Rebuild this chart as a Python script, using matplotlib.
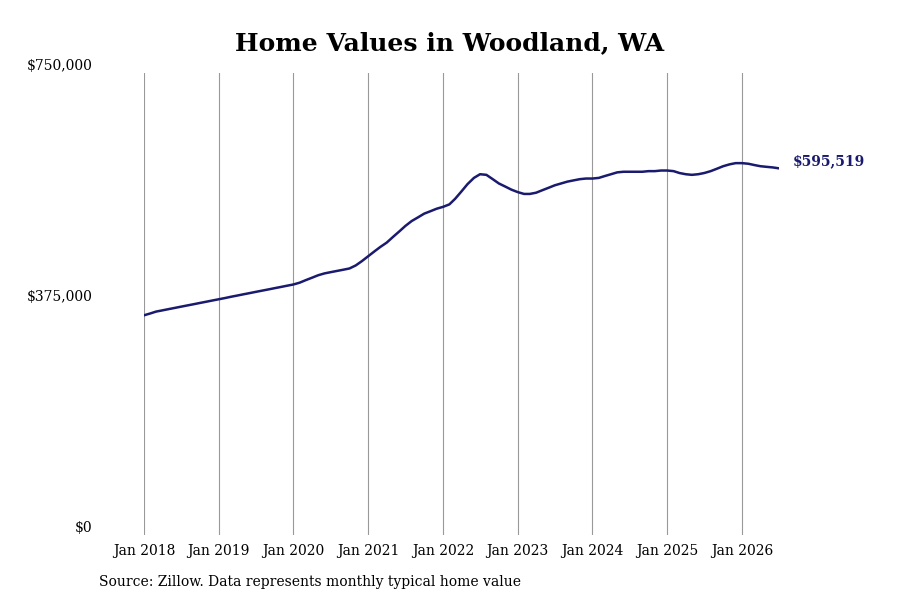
import matplotlib
matplotlib.use("Agg")
import matplotlib.pyplot as plt
import pandas as pd

plt.rcParams['font.family'] = ['DejaVu Serif']

values_k = [
 357,360,363,365,367,369,371,373,375,377,379,381,
 383,385,387,389,391,393,395,397,399,401,403,405,
 407,410,414,418,422,425,427,429,431,433,438,445,
 453,461,468,475,484,493,502,510,516,522,526,530,
 533,537,546,558,570,580,586,585,578,571,566,561,
 557,554,554,556,560,564,568,571,574,576,578,579,
 579,580,583,586,589,590,590,590,590,591,591,592,
 592,591,588,586,585,586,588,591,595,599,602,604,
 604,603,601,599,598,597,595.519,
]
values = [v * 1000 for v in values_k]
dates = pd.date_range("2018-01-01", periods=len(values), freq="MS")
years = list(range(2018, 2027))
ytick_vals = [0, 375000, 750000]
ytick_labels = ["$0", "$375,000", "$750,000"]

fig = plt.figure(figsize=(9, 6), dpi=100)
ax = fig.add_axes([0.16, 0.108, 0.7056, 0.77])
ax.plot(dates, values, color="#1a1a6e", lw=1.8)
ax.set_xlim(dates[0], dates[-1])
ax.set_ylim(0, 750000)
xt = [pd.Timestamp(f"{y}-01-01") for y in years]
ax.set_xticks(xt)
ax.set_xticklabels([f"Jan {y}" for y in years], fontsize=10)
ax.set_yticks(ytick_vals)
ax.set_yticklabels(ytick_labels, fontsize=10)
ax.tick_params(length=0, pad=6)
ax.tick_params(axis='y', pad=37)
for lbl in ax.get_yticklabels():
    lbl.set_verticalalignment('bottom')
ax.grid(axis='x', color='#999999', lw=0.8)
ax.grid(axis='y', visible=False)
for s in ax.spines.values():
    s.set_visible(False)
ax.annotate("$595,519", (dates[-1], values[-1]), xytext=(10, 0), textcoords="offset points",
            va="bottom", ha="left", fontsize=10, fontweight="bold", color="#1a1a6e")
fig.text(0.5, 0.928, "Home Values in Woodland, WA", ha="center", va="center",
         fontsize=18, fontweight="bold")
fig.text(0.11, 0.03, "Source: Zillow. Data represents monthly typical home value",
         ha="left", va="center", fontsize=10)
fig.savefig("out.png", dpi=100)
